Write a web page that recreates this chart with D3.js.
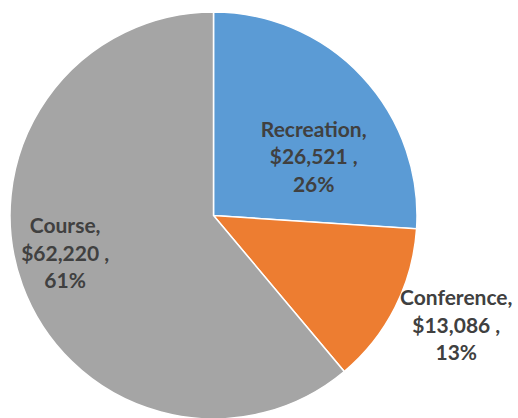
<!DOCTYPE html>
<html>
<head>
<meta charset="utf-8">
<script src="https://cdn.jsdelivr.net/npm/d3@7"></script>
<style>
  html, body { margin: 0; padding: 0; background: #fff; }
  .label { font-family: Lato, "Open Sans", sans-serif; font-weight: bold; fill: #404040; }
</style>
</head>
<body>
<script>
'use strict';

var categories = ["Recreation", "Conference", "Course"];
var values = [26521, 13086, 62220];
var colors = ["#5B9BD5", "#ED7D31", "#A5A5A5"];
// label distance from centre, as a share of the radius, plus a small nudge
var labelDist = [0.54, 1.31, 0.76];
var labelNudge = [[20, 17], [5, -10.5], [-3, -14.5]];

var _width = 518;
var _height = 418;
var _cx = 213.5;
var _cy = 215.5;
var _radius = 203.5;
var _lineHeight = 27.5;

var svg = d3.select(document.body)
    .append("svg")
    .attr("width", _width)
    .attr("height", _height);

var total = d3.sum(values);
var data = categories.map(function(c, i) {
  return {name: c, value: values[i], color: colors[i], i: i};
});

var pie = d3.pie().sort(null).value(function(d) { return d.value; });
var arc = d3.arc().innerRadius(0).outerRadius(_radius);

var g = svg.append("g")
    .attr("transform", "translate(" + _cx + "," + _cy + ")");

var arcs = pie(data);

g.selectAll("path.slice")
    .data(arcs)
    .enter()
    .append("path")
    .attr("class", "slice")
    .attr("d", arc)
    .attr("fill", function(d) { return d.data.color; })
    .attr("stroke", "#fff")
    .attr("stroke-width", 1.5);

var fmt = d3.format("$,");

var labels = g.selectAll("text.label")
    .data(arcs)
    .enter()
    .append("text")
    .attr("class", "label")
    .attr("text-anchor", "middle")
    .style("font-size", "21px")
    .attr("transform", function(d) {
      var a = (d.startAngle + d.endAngle) / 2;
      var r = labelDist[d.data.i] * _radius;
      var x = Math.sin(a) * r + labelNudge[d.data.i][0];
      var y = -Math.cos(a) * r + labelNudge[d.data.i][1];
      return "translate(" + x + "," + y + ")";
    });

labels.each(function(d) {
  var lines = [
    d.data.name + ",",
    fmt(d.data.value) + " ,",
    Math.round(d.data.value / total * 100) + "%"
  ];
  d3.select(this).selectAll("tspan")
      .data(lines)
      .enter()
      .append("tspan")
      .attr("x", 0)
      .attr("y", function(l, k) { return (k - 1) * _lineHeight + 7; })
      .text(function(l) { return l; });
});
</script>
</body>
</html>
